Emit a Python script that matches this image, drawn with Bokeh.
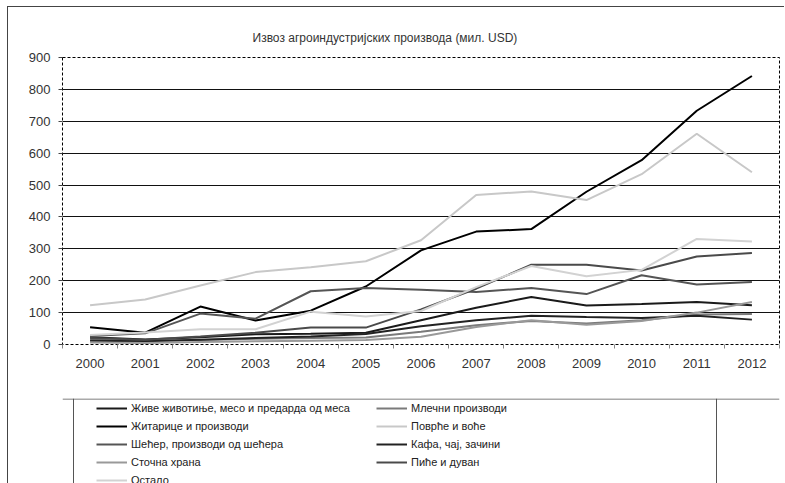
from bokeh.plotting import figure
from bokeh.layouts import column
from bokeh.models import (Range1d, FixedTicker, LinearAxis, Legend, LegendItem, Span, Grid)
from bokeh.embed import file_html
from bokeh.resources import INLINE

# ---- data (mil. USD) ----
years = [2000, 2001, 2002, 2003, 2004, 2005, 2006, 2007, 2008, 2009, 2010, 2011, 2012]
zhive = [23, 16, 23, 32, 34, 37, 76, 115, 149, 122, 127, 133, 123]
mlecni = [15, 12, 14, 18, 20, 22, 40, 60, 74, 66, 76, 94, 96]
zitarice = [54, 37, 119, 75, 106, 182, 295, 354, 362, 479, 578, 733, 842]
povrce = [123, 141, 185, 227, 242, 261, 327, 469, 480, 453, 534, 661, 540]
secer = [27, 35, 97, 81, 167, 177, 172, 165, 177, 158, 217, 188, 196]
kafa = [12, 10, 15, 20, 25, 33, 57, 76, 90, 86, 83, 90, 78]
stocna = [6, 5, 8, 10, 12, 14, 24, 55, 76, 62, 74, 100, 133]
pice = [20, 15, 25, 37, 53, 53, 110, 175, 250, 250, 232, 276, 287]
ostalo = [30, 38, 48, 48, 103, 88, 105, 180, 246, 214, 234, 331, 323]

names = ["Живе животиње, месо и предарда од меса", "Млечни производи",
         "Житарице и производи", "Поврће и воће",
         "Шећер, производи од шећера", "Кафа, чај, зачини",
         "Сточна храна", "Пиће и дуван", "Остало"]
series = [zhive, mlecni, zitarice, povrce, secer, kafa, stocna, pice, ostalo]
colors = ["#1a1a1a", "#7a7a7a", "#000000", "#c8c8c8", "#555555", "#222222",
          "#999999", "#4a4a4a", "#d2d2d2"]
y_ticks = [0, 100, 200, 300, 400, 500, 600, 700, 800, 900]
grid_ticks = [100, 200, 300, 400, 500, 600, 700, 800]
title_text = "Извоз агроиндустријских производа (мил. USD)"

FONT = "Liberation Sans"
W = 776

p = figure(width=W, height=391, output_backend="svg", toolbar_location=None,
           x_range=Range1d(years[0] - 0.5, years[-1] + 0.5), y_range=Range1d(0, 900),
           min_border_left=54, min_border_right=5, min_border_top=50, min_border_bottom=54,
           x_axis_type=None, y_axis_type=None, title=title_text)
p.title.text_font = FONT
p.title.text_font_size = "12px"
p.title.text_font_style = "normal"
p.title.text_color = "#333333"
p.title.align = "left"
p.title.offset = 190
p.title.vertical_align = "top"
p.title.standoff = 22
p.background_fill_color = "white"
p.border_fill_color = "white"
p.outline_line_color = "black"
p.outline_line_dash = "3 2"
p.outline_line_width = 1

xaxis = LinearAxis(ticker=FixedTicker(ticks=years,
                                      minor_ticks=[y - 0.5 for y in years] + [years[-1] + 0.5]))
xaxis.axis_line_color = None
xaxis.major_tick_out = 0
xaxis.major_tick_in = 0
xaxis.minor_tick_out = 4
xaxis.minor_tick_in = 0
xaxis.minor_tick_line_color = "#888888"
xaxis.major_label_text_font = FONT
xaxis.major_label_text_font_size = "13px"
xaxis.major_label_text_color = "#333333"
xaxis.major_label_standoff = 10
p.add_layout(xaxis, "below")

yaxis = LinearAxis(ticker=FixedTicker(ticks=y_ticks))
yaxis.axis_line_color = None
yaxis.major_tick_out = 4
yaxis.major_tick_in = 0
yaxis.major_tick_line_color = "#444444"
yaxis.minor_tick_line_color = None
yaxis.major_label_text_font = FONT
yaxis.major_label_text_font_size = "13px"
yaxis.major_label_text_color = "#333333"
yaxis.major_label_standoff = 8
p.add_layout(yaxis, "left")

ygrid = Grid(dimension=1, ticker=FixedTicker(ticks=grid_ticks))
ygrid.grid_line_color = "#111111"
ygrid.grid_line_width = 1
p.add_layout(ygrid)

for vals, col in zip(series, colors):
    p.line(years, vals, line_color=col, line_width=2)

# ---- legend panel (series drawn off-range, only used for legend glyphs) ----
p2 = figure(width=W, height=85, output_backend="svg", toolbar_location=None,
            x_range=Range1d(0, 717), y_range=Range1d(-85, 0),
            x_axis_location=None, y_axis_location=None,
            min_border_left=54, min_border_right=5, min_border_top=0, min_border_bottom=0)
p2.grid.visible = False
p2.outline_line_color = None
p2.background_fill_color = "white"
p2.border_fill_color = "white"

rends = []
for vals, col in zip(series, colors):
    rends.append(p2.line(years, vals, line_color=col, line_width=2))

order = [0, 2, 4, 6, 8, 1, 3, 5, 7]
items = [LegendItem(label=names[i], renderers=[rends[i]]) for i in order]
leg = Legend(items=items, location=(34, -6), ncols=2, orientation="vertical",
             padding=0, margin=0, spacing=0, glyph_width=31, glyph_height=18,
             label_height=18, label_width=245, label_standoff=4,
             label_text_font=FONT, label_text_font_size="11px", label_text_color="#222222",
             border_line_color=None, background_fill_alpha=0)
p2.add_layout(leg, "center")

for loc, dim in [(11, "height"), (654, "height"), (-0.5, "width")]:
    p2.add_layout(Span(location=loc, dimension=dim, line_color="#555555", line_width=1))

layout = column(p, p2, spacing=0,
                styles={"border-left": "1px solid #444", "border-top": "1px solid #444",
                        "margin": "6px 0px 0px 7px"})

open("out.html", "w").write(file_html(layout, INLINE))
